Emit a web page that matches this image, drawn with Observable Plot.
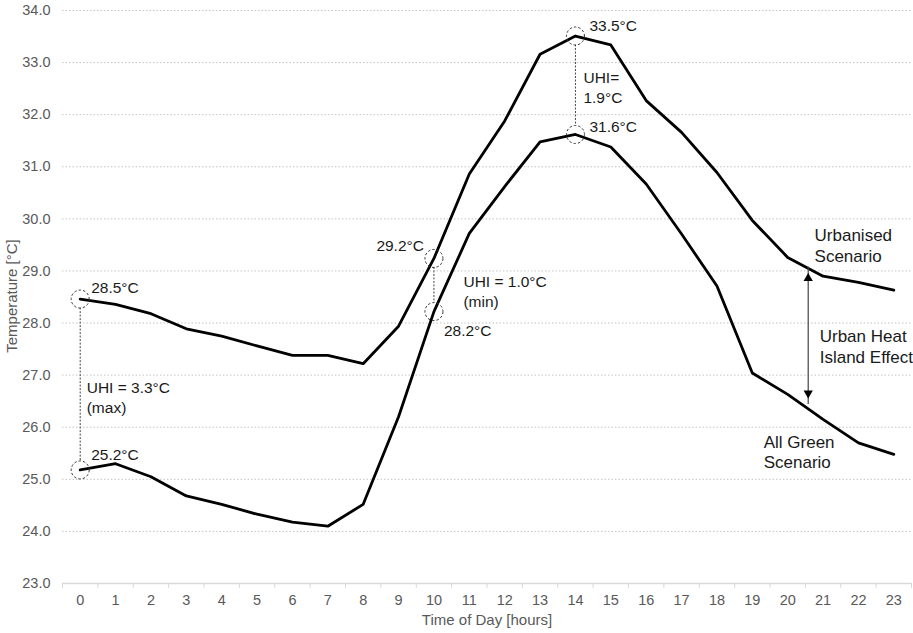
<!DOCTYPE html>
<html>
<head>
<meta charset="utf-8">
<script src="https://cdn.jsdelivr.net/npm/d3@7"></script>
<script src="https://cdn.jsdelivr.net/npm/@observablehq/plot@0.6"></script>
<style>
  body { margin: 0; background: #fff; }
  #chart svg { display: block; }
</style>
</head>
<body>
<div id="chart"></div>
<script>
// ---- data ----
const hours = [0, 1, 2, 3, 4, 5, 6, 7, 8, 9, 10, 11, 12, 13, 14, 15, 16, 17, 18, 19, 20, 21, 22, 23];
const urbanised = [28.46, 28.36, 28.18, 27.89, 27.75, 27.56, 27.38, 27.38, 27.22, 27.94, 29.24, 30.86,
                   31.88, 33.16, 33.51, 33.34, 32.27, 31.66, 30.89, 29.97, 29.26, 28.90, 28.78, 28.63];
const allGreen = [25.18, 25.30, 25.05, 24.68, 24.52, 24.33, 24.18, 24.10, 24.52, 26.20, 28.22, 29.72,
                  30.62, 31.48, 31.62, 31.38, 30.67, 29.71, 28.71, 27.04, 26.63, 26.15, 25.70, 25.48];
const yTicks = [23, 24, 25, 26, 27, 28, 29, 30, 31, 32, 33, 34];
const markedHours = [0, 10, 14];           // hours with UHI annotations
const uhiNotes = ["(max)", "(min)", ""];   // note under each UHI value
const uhiArrow = {hour: 20.58, top: 28.96, bottom: 26.55};
const xTitle = "Time of Day [hours]";
const yTitle = "Temperature [°C]";

// ---- derived tables ----
const rows = hours.map((h, i) => ({hour: h, urbanised: urbanised[i], allGreen: allGreen[i]}));
const boundaries = hours.map(h => h - 0.5).concat([hours[hours.length - 1] + 0.5]);
const marked = markedHours.map((h, i) => ({
  hour: h, urb: urbanised[h], green: allGreen[h], note: uhiNotes[i],
  uhi: (urbanised[h] - allGreen[h]).toFixed(1)
}));

const font = "'Liberation Sans', Arial, Helvetica, sans-serif";
const ink = "#1a1a1a";
const tickColor = "#595959";

function valueLabel(series, hour, opts) {
  const d = marked.find(m => m.hour === hour);
  return Plot.text([d], {
    x: "hour", y: series, text: m => `${m[series].toFixed(1)}°C`,
    fontSize: 15.5, fill: ink, lineAnchor: "middle", textAnchor: "start", ...opts
  });
}
function uhiLabel(hour, text, opts) {
  const d = marked.find(m => m.hour === hour);
  return Plot.text([d], {
    x: "hour", y: m => (m.urb + m.green) / 2, text: text,
    fontSize: 15.5, fill: ink, lineAnchor: "middle", textAnchor: "start", lineHeight: 1.27, ...opts
  });
}

const chart = Plot.plot({
  width: 913,
  height: 633,
  marginLeft: 62,
  marginRight: 2,
  marginTop: 10,
  marginBottom: 50,
  style: {fontFamily: font, fontSize: "14px", background: "#fff", color: tickColor},
  x: {domain: [-0.5, 23.5], axis: null},
  y: {domain: [23, 34], axis: null},
  marks: [
    // grid + axes
    Plot.gridY(yTicks.filter(t => t > 23), {stroke: "#c4c4c4", strokeOpacity: 1, strokeDasharray: "1.5,2"}),
    Plot.ruleY([23], {stroke: "#d9d9d9", strokeWidth: 1.5}),
    Plot.axisY(yTicks, {tickSize: 0, tickPadding: 12, tickFormat: d => d.toFixed(1), fill: tickColor, fontSize: 14.5, label: null}),
    Plot.axisX(hours, {tickSize: 0, tickPadding: 11, fill: tickColor, fontSize: 14.5, label: null}),
    Plot.axisX(boundaries, {tickSize: 5, stroke: "#d9d9d9", tickFormat: () => "", label: null}),
    Plot.text([xTitle], {frameAnchor: "bottom", dy: 37, textAnchor: "middle", lineAnchor: "middle", fontSize: 15, fill: tickColor}),
    Plot.text([yTitle], {frameAnchor: "left", dx: -50, dy: -1, rotate: -90, textAnchor: "middle", lineAnchor: "middle", fontSize: 15, fill: tickColor}),

    // series
    Plot.line(rows, {x: "hour", y: "urbanised", stroke: "#000", strokeWidth: 2.8}),
    Plot.line(rows, {x: "hour", y: "allGreen", stroke: "#000", strokeWidth: 2.8}),

    // UHI connectors and circles
    Plot.ruleX(marked, {x: "hour", y1: "urb", y2: "green", stroke: "#444", strokeWidth: 1, strokeDasharray: "2,1.5", insetTop: 9, insetBottom: 9}),
    Plot.dot(marked, {x: "hour", y: "urb", r: 9, stroke: "#333", strokeWidth: 1, strokeDasharray: "2.5,2", fill: "none"}),
    Plot.dot(marked, {x: "hour", y: "green", r: 9, stroke: "#333", strokeWidth: 1, strokeDasharray: "2.5,2", fill: "none"}),

    // value labels
    valueLabel("urb", 0, {dx: 11, dy: -11}),
    valueLabel("green", 0, {dx: 11, dy: -15}),
    valueLabel("urb", 10, {dx: -10, dy: -12, textAnchor: "end"}),
    valueLabel("green", 10, {dx: 10, dy: 19}),
    valueLabel("urb", 14, {dx: 14, dy: -9.5}),
    valueLabel("green", 14, {dx: 14, dy: -7}),

    // UHI labels
    uhiLabel(0, m => `UHI = ${m.uhi}°C\n${m.note}`, {dx: 6.5, dy: 12}),
    uhiLabel(10, m => `UHI = ${m.uhi}°C\n${m.note}`, {dx: 29.5, dy: 6}),
    uhiLabel(14, m => `UHI=\n${m.uhi}°C`, {dx: 8, dy: 1.5}),

    // UHI effect arrow
    Plot.ruleX([uhiArrow], {x: "hour", y1: "bottom", y2: "top", stroke: "#444", strokeWidth: 1.2, insetTop: 6, insetBottom: 6}),
    Plot.dot([uhiArrow], {x: "hour", y: "top", symbol: "triangle", r: 3.45, fill: "#000", dy: 5.4}),
    Plot.dot([uhiArrow], {x: "hour", y: "bottom", symbol: "triangle", r: 3.45, fill: "#000", rotate: 180, dy: -5.4}),

    // series labels
    Plot.text([{hour: 21, v: urbanised[21]}], {x: "hour", y: "v", text: () => "Urbanised\nScenario", dx: -8.5, dy: -31.5, textAnchor: "start", lineAnchor: "middle", lineHeight: 1.22, fontSize: 17, fill: ink}),
    Plot.text([{hour: 20, v: allGreen[20]}], {x: "hour", y: "v", text: () => "All Green\nScenario", dx: -24, dy: 57, textAnchor: "start", lineAnchor: "middle", lineHeight: 1.22, fontSize: 17, fill: ink}),
    Plot.text([uhiArrow], {x: "hour", y: d => (d.top + d.bottom) / 2, text: () => "Urban Heat\nIsland Effect", dx: 11.5, dy: 10, textAnchor: "start", lineAnchor: "middle", lineHeight: 1.22, fontSize: 17, fill: ink})
  ]
});

document.getElementById("chart").appendChild(chart);
</script>
</body>
</html>
